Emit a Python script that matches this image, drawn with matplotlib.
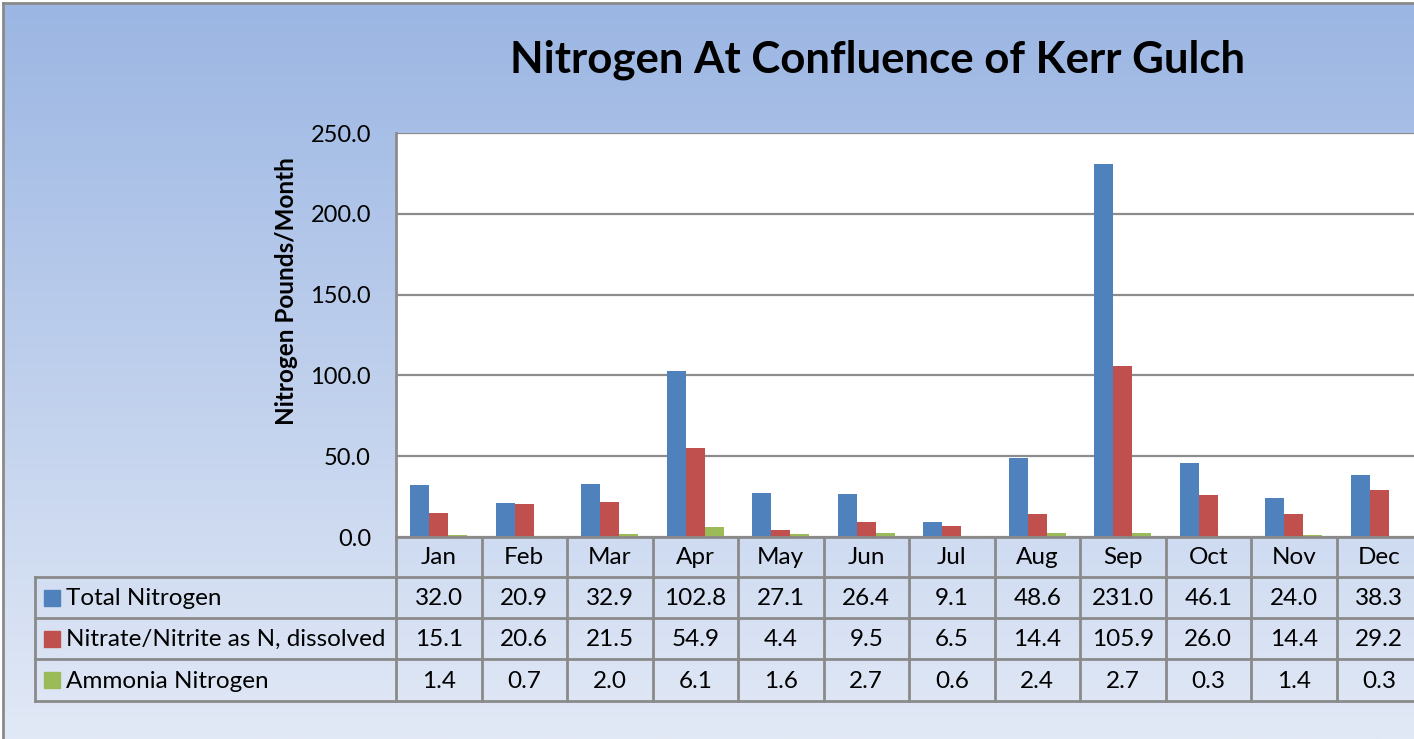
import numpy as np
import matplotlib
matplotlib.use("Agg")
import matplotlib.pyplot as plt
from matplotlib import transforms
from matplotlib.patches import Rectangle
from matplotlib.lines import Line2D

months = ["Jan", "Feb", "Mar", "Apr", "May", "Jun", "Jul", "Aug", "Sep", "Oct", "Nov", "Dec"]
series_names = ["Total Nitrogen", "Nitrate/Nitrite as N, dissolved", "Ammonia Nitrogen"]
total_nitrogen = [32.0, 20.9, 32.9, 102.8, 27.1, 26.4, 9.1, 48.6, 231.0, 46.1, 24.0, 38.3]
nitrate_nitrite = [15.1, 20.6, 21.5, 54.9, 4.4, 9.5, 6.5, 14.4, 105.9, 26.0, 14.4, 29.2]
ammonia = [1.4, 0.7, 2.0, 6.1, 1.6, 2.7, 0.6, 2.4, 2.7, 0.3, 1.4, 0.3]
yticks = [0, 50, 100, 150, 200, 250]
title = "Nitrogen At Confluence of Kerr Gulch"
ylabel = "Nitrogen Pounds/Month"

colors = ["#4F81BD", "#C0504D", "#9BBB59"]
grid_c = "#8C8C8C"
FONT = "Lato"
plt.rcParams["font.family"] = [FONT, "DejaVu Sans"]

W, H = 1414, 739
fig = plt.figure(figsize=(W / 100, H / 100), dpi=100)
fig.patch.set_facecolor("white")

def fx(px):
    return px / W

def fy(py):
    return 1 - py / H

# background gradient
bg = fig.add_axes([fx(3), 0, 1 - fx(3), fy(3)], zorder=-10)
top = np.array([155, 182, 227]) / 255
bot = np.array([226, 233, 246]) / 255
t = np.linspace(0, 1, 256)[:, None]
grad = (top[None, :] * (1 - t) + bot[None, :] * t)[:, None, :]
bg.imshow(grad, aspect="auto", extent=[0, 1, 0, 1])
bg.set_axis_off()
fig.add_artist(Line2D([fx(3), fx(3)], [0, fy(3)], color="#8A8A8A", lw=2))
fig.add_artist(Line2D([fx(3), 1], [fy(3), fy(3)], color="#8A8A8A", lw=2))

# plot area
left_px, right_px, top_px, bot_px = 396, 1422, 133, 537
ax = fig.add_axes([fx(left_px), fy(bot_px), fx(right_px - left_px), (bot_px - top_px) / H])
ax.set_facecolor("white")
x = np.arange(len(months))
bw = 0.222
for i, (vals, c) in enumerate(zip([total_nitrogen, nitrate_nitrite, ammonia], colors)):
    ax.bar(x + (i - 1) * bw, vals, width=bw, color=c, zorder=3, linewidth=0)
ax.set_xlim(-0.5, len(months) - 0.5)
ax.set_ylim(0, 250)
ax.set_yticks(yticks)
ax.set_yticklabels([f"{v:.1f}" for v in yticks], fontsize=17, family=[FONT])
ax.tick_params(axis="y", length=0, pad=18)
ax.set_xticks([])
ax.yaxis.grid(True, color=grid_c, lw=1.6, zorder=1)
for s in ["top", "right", "bottom"]:
    ax.spines[s].set_visible(False)
ax.spines["left"].set_color(grid_c)
ax.spines["left"].set_linewidth(2)

fig.text(fx(878), fy(60), title, ha="center", va="center", fontsize=31.5, fontweight="bold")
fig.text(fx(287), fy(291), ylabel, ha="center", va="center", rotation=90, fontsize=17.5, fontweight="bold")

# data table below the axis
tr = transforms.blended_transform_factory(ax.transData, fig.transFigure)
row_edges = [537, 577, 618, 659, 701]
tbl_left = 35
lc = "#8A8A8A"
lw = 2
n = len(months)
for r in row_edges[1:]:
    fig.add_artist(Line2D([fx(tbl_left), fx(left_px)], [fy(r)] * 2, color=lc, lw=lw))
    fig.add_artist(Line2D([-0.5, n - 0.5], [fy(r)] * 2, transform=tr, color=lc, lw=lw))
for k in range(n + 1):
    fig.add_artist(Line2D([k - 0.5, k - 0.5], [fy(row_edges[0]), fy(row_edges[-1])], transform=tr, color=lc, lw=lw))
fig.add_artist(Line2D([fx(tbl_left), fx(tbl_left)], [fy(row_edges[1]), fy(row_edges[-1])], color=lc, lw=lw))
fig.add_artist(Line2D([-0.5, n - 0.5], [fy(row_edges[0])] * 2, transform=tr, color=lc, lw=lw))

fs = 17.5
for k, m in enumerate(months):
    fig.text(k, fy((row_edges[0] + row_edges[1]) / 2 + 1), m, transform=tr, ha="center", va="center", fontsize=fs)
for r, (name, vals, c) in enumerate(zip(series_names, [total_nitrogen, nitrate_nitrite, ammonia], colors)):
    yc = (row_edges[r + 1] + row_edges[r + 2]) / 2
    fig.add_artist(Rectangle((fx(44), fy(yc + 8)), fx(16), 16 / H, color=c))
    fig.text(fx(66), fy(yc + 1), name, ha="left", va="center", fontsize=fs)
    for k, v in enumerate(vals):
        fig.text(k, fy(yc + 1), f"{v:.1f}", transform=tr, ha="center", va="center", fontsize=fs)

fig.savefig("out.png", dpi=100)
